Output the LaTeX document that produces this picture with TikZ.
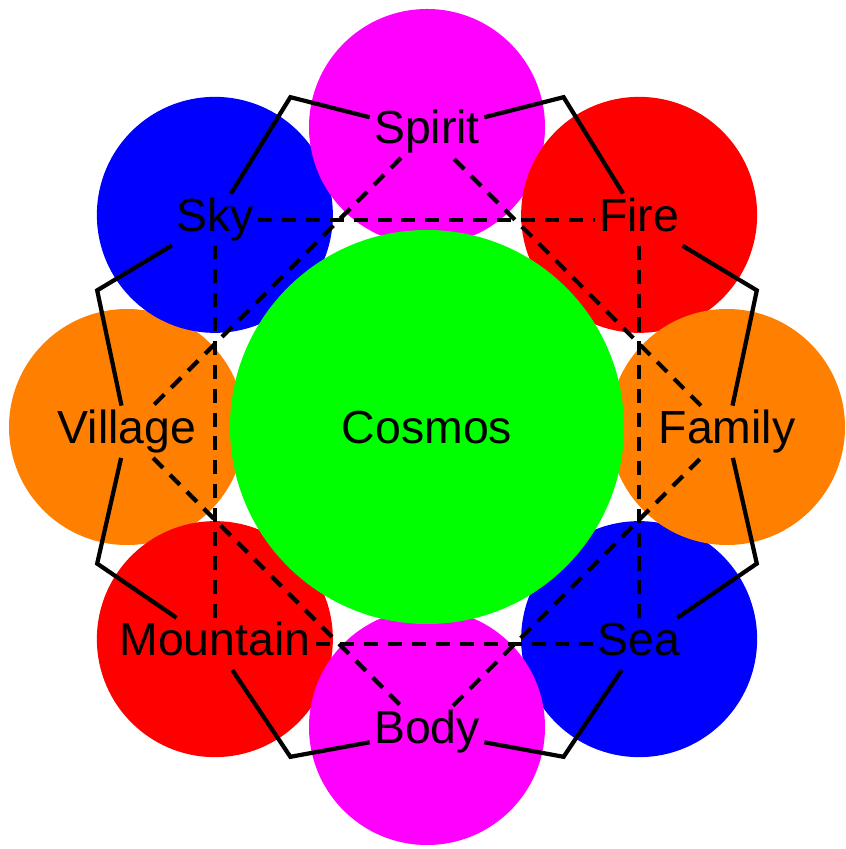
\documentclass[tikz,border=0pt]{standalone}
\usepackage{fontspec}
\setmainfont{Liberation Sans}
\definecolor{vmagenta}{RGB}{255,0,255}
\definecolor{vorange}{RGB}{255,128,0}
\begin{document}
\begin{tikzpicture}[
  disc/.style={circle, minimum size=5.9cm, inner sep=0pt},
  lbl/.style={font=\fontsize{33}{40}\selectfont, inner sep=3pt,
              text height=23.8pt, text depth=7pt, yshift=-3.4pt},
  tie/.style={line width=3pt},
  link/.style={line width=3pt, dash pattern=on 10pt off 7pt},
]
  \useasboundingbox (-10.675,-10.55) rectangle (10.45,10.675);

  % outer discs, back to front
  \node[disc, fill=vorange]  (dVillage)  at (180:7.5) {};
  \node[disc, fill=blue]     (dSky)      at (135:7.5) {};
  \node[disc, fill=red]      (dMountain) at (225:7.5) {};
  \node[disc, fill=blue]     (dSea)      at (315:7.5) {};
  \node[disc, fill=vmagenta] (dSpirit)   at ( 90:7.5) {};
  \node[disc, fill=red]      (dFire)     at ( 45:7.5) {};
  \node[disc, fill=vorange]  (dFamily)   at (  0:7.5) {};
  \node[disc, fill=vmagenta] (dBody)     at (270:7.5) {};
  \node[circle, minimum size=9.85cm, inner sep=0pt, fill=green] (dCosmos) at (0,0) {};

  % labels
  \node[lbl] (cosmos)   at (dCosmos)   {Cosmos};
  \node[lbl] (spirit)   at (dSpirit)   {Spirit};
  \node[lbl] (fire)     at (dFire)     {Fire};
  \node[lbl] (family)   at (dFamily)   {Family};
  \node[lbl] (sea)      at (dSea)      {Sea};
  \node[lbl] (body)     at (dBody)     {Body};
  \node[lbl] (mountain) at (dMountain) {Mountain};
  \node[lbl] (village)  at (dVillage)  {Village};
  \node[lbl] (sky)      at (dSky)      {Sky};

  % outer ring, bent at the octagon corners
  \foreach \a/\b/\ang in {spirit/sky/112.5, sky/village/157.5,
      village/mountain/202.5, mountain/body/247.5, body/sea/292.5,
      sea/family/337.5, family/fire/22.5, fire/spirit/67.5}
    \draw[tie] (\a) -- (\ang:8.925) -- (\b);

  % square and diamond
  \draw[link] (sky) -- (fire);
  \draw[link] (fire) -- (sea);
  \draw[link] (sea) -- (mountain);
  \draw[link] (mountain) -- (sky);
  \draw[link] (spirit) -- (village);
  \draw[link] (village) -- (body);
  \draw[link] (body) -- (family);
  \draw[link] (family) -- (spirit);
\end{tikzpicture}
\end{document}
